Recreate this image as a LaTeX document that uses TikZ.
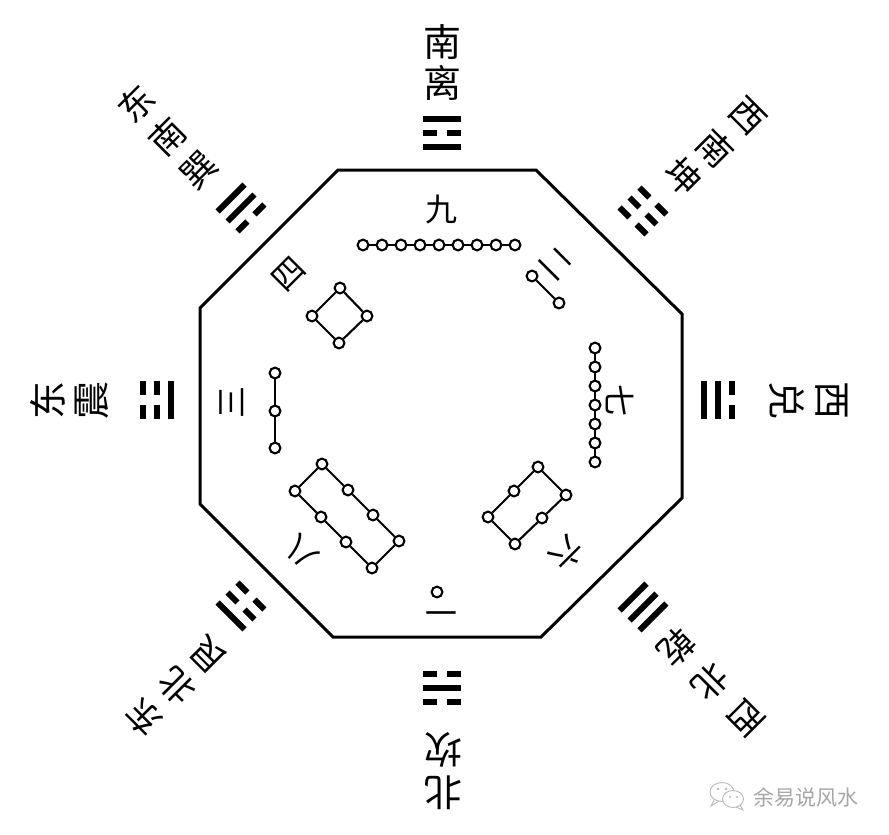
\documentclass[tikz,border=0pt]{standalone}
\usepackage{fontspec}
\newfontfamily\cjk{Noto Sans CJK SC}
\newcommand\yangbar[1]{\fill (-19,#1-3) rectangle (19,#1+3);}
\newcommand\yinbar[1]{\fill (-19,#1-3) rectangle (-5,#1+3); \fill (5,#1-3) rectangle (19,#1+3);}
\newcommand\gua[5]{\begin{scope}[shift={#1},rotate=#2]#3{-14}#4{0}#5{14}\end{scope}}
\begin{document}
\begin{tikzpicture}[x=1pt,y=-1pt,
  dot/.style={circle,draw,line width=2.1pt,fill=white,minimum size=10.8pt,inner sep=0pt},
  link/.style={line width=2.1pt},
  lab/.style={font=\cjk\fontsize{38}{38}\selectfont,inner sep=0pt},
  dlab/.style={font=\cjk\fontsize{35}{35}\selectfont,inner sep=0pt},
  num/.style={font=\cjk\fontsize{32}{32}\selectfont,inner sep=0pt}]
\useasboundingbox (0,0) rectangle (889,835);
% octagon
\draw[line width=3pt,line join=miter] (338,170) -- (536,170) -- (682,314) -- (682,498) -- (541,637) -- (333,637) -- (200,504) -- (200,308) -- cycle;
% trigrams (outer, middle, inner)
\gua{(442,133)}{0}{\yangbar}{\yinbar}{\yangbar}
\gua{(241,208)}{45}{\yangbar}{\yangbar}{\yinbar}
\gua{(157,400)}{90}{\yinbar}{\yinbar}{\yangbar}
\gua{(241,606)}{135}{\yangbar}{\yinbar}{\yinbar}
\gua{(442,688)}{180}{\yinbar}{\yangbar}{\yinbar}
\gua{(643,607)}{-135}{\yangbar}{\yangbar}{\yangbar}
\gua{(718,400)}{-90}{\yinbar}{\yangbar}{\yangbar}
\gua{(643,211)}{-45}{\yinbar}{\yinbar}{\yinbar}
% outer labels
\node[lab] (ls1) at (442,42) {南};
\node[lab] (ls2) at (442,83) {离};
\node[dlab,rotate=45] (lse1) at (136,104) {东};
\node[dlab,rotate=45] (lse2) at (167,137) {南};
\node[dlab,rotate=45] (lse3) at (199,170) {巽};
\node[lab,rotate=90] (le1) at (48,400) {东};
\node[lab,rotate=90] (le2) at (92,400) {震};
\node[dlab,rotate=135] (lne1) at (144,718) {东};
\node[dlab,rotate=135] (lne2) at (177,686) {北};
\node[dlab,rotate=135] (lne3) at (208,655) {艮};
\node[lab,rotate=180] (ln1) at (443,793) {北};
\node[lab,rotate=180] (ln2) at (443,750) {坎};
\node[dlab,rotate=-135] (lnw1) at (746,718) {西};
\node[dlab,rotate=-135] (lnw2) at (710,682) {北};
\node[dlab,rotate=-135] (lnw3) at (677,647) {乾};
\node[lab,rotate=-90] (lw1) at (832,400) {西};
\node[lab,rotate=-90] (lw2) at (787,400) {兑};
\node[dlab,rotate=-45] (lsw1) at (748,116) {西};
\node[dlab,rotate=-45] (lsw2) at (715,148) {南};
\node[dlab,rotate=-45] (lsw3) at (683,176) {坤};
% inner numerals
\node[num] (k9) at (441,210) {九};
\node[num,rotate=-45] (k2) at (556,264) {二};
\node[num,rotate=45] (k4) at (289,274) {四};
\node[num,rotate=90] (k3) at (232,402) {三};
\node[num,rotate=-90] (k7) at (620,400) {七};
\node[num,rotate=135] (k8) at (301,552) {八};
\node[num,rotate=-135] (k6) at (567,553) {六};
\node[num,rotate=180] (k1) at (441,607) {一};
% nine
\foreach \i in {1,...,9} \node[dot] (a\i) at ({363+19*(\i-1)},245) {};
\foreach \i/\j in {1/2,2/3,3/4,4/5,5/6,6/7,7/8,8/9} \draw[link] (a\i) -- (a\j);
% seven
\foreach \i in {1,...,7} \node[dot] (b\i) at (595,{348+19*(\i-1)}) {};
\foreach \i/\j in {1/2,2/3,3/4,4/5,5/6,6/7} \draw[link] (b\i) -- (b\j);
% two
\node[dot] (c1) at (532,276) {};
\node[dot] (c2) at (559,303) {};
\draw[link] (c1) -- (c2);
% three
\node[dot] (d1) at (275,373) {};
\node[dot] (d2) at (275,411) {};
\node[dot] (d3) at (275,448) {};
\draw[link] (d1) -- (d2) -- (d3);
% four
\node[dot] (e1) at (340,288) {};
\node[dot] (e2) at (367,316) {};
\node[dot] (e3) at (339,343) {};
\node[dot] (e4) at (312,316) {};
\draw[link] (e1) -- (e2) -- (e3) -- (e4) -- (e1);
% eight
\node[dot] (f1) at (322,464) {};
\node[dot] (f2) at (348,490) {};
\node[dot] (f3) at (373,515) {};
\node[dot] (f4) at (399,541) {};
\node[dot] (f5) at (372,568) {};
\node[dot] (f6) at (346,542) {};
\node[dot] (f7) at (321,517) {};
\node[dot] (f8) at (295,491) {};
\draw[link] (f1) -- (f2) -- (f3) -- (f4) -- (f5) -- (f6) -- (f7) -- (f8) -- (f1);
% six
\node[dot] (g1) at (538,467) {};
\node[dot] (g2) at (566,495) {};
\node[dot] (g3) at (542,518) {};
\node[dot] (g4) at (515,544) {};
\node[dot] (g5) at (488,517) {};
\node[dot] (g6) at (514,491) {};
\draw[link] (g1) -- (g2) -- (g3) -- (g4) -- (g5) -- (g6) -- (g1);
% one
\node[dot] (h1) at (437,592) {};
% watermark
\begin{scope}[draw=gray!55,line width=0.9pt]
\draw[fill=white] (722,792) ellipse (12 and 9.5);
\draw (714,800) -- (711,806) -- (719,801);
\draw[fill=white] (733,799) ellipse (10.5 and 8.5);
\draw (740,805) -- (743,810) -- (736,807);
\fill[gray!55] (718,789) circle (1.3) (726,789) circle (1.3) (730,797) circle (1.1) (737,797) circle (1.1);
\end{scope}
\node[font=\cjk\fontsize{21}{21}\selectfont,text=gray!70,inner sep=0pt] (wm) at (806,797) {余易说风水};
\end{tikzpicture}
\end{document}
